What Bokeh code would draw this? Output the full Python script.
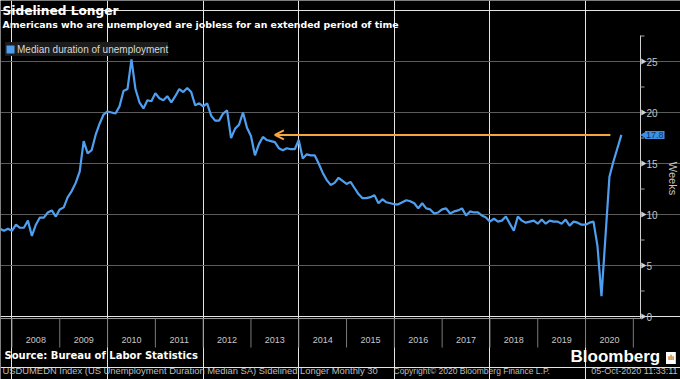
import numpy as np
from bokeh.plotting import figure
from bokeh.core.properties import value
from bokeh.models import (Label, Legend, LegendItem, Arrow, OpenHead, FixedTicker, Range1d, Grid)
from bokeh.embed import file_html
from bokeh.resources import INLINE

# ---------------- data (median duration of unemployment, weeks; monthly) ----------------
first_year, first_month = 2007, 9
weeks_2007 = [8.6, 8.4, 8.6, 8.4]                      # Sep-Dec
weeks_2008 = [9.0, 8.7, 8.7, 9.4, 7.9, 9.0, 9.7, 9.7, 10.2, 10.4, 9.8, 10.5]
weeks_2009 = [10.7, 11.7, 12.3, 13.1, 14.2, 17.2, 16.0, 16.3, 17.8, 18.9, 19.8, 20.1]
weeks_2010 = [20.0, 19.9, 20.6, 22.1, 22.3, 25.2, 22.3, 21.0, 20.4, 21.2, 21.1, 21.9]
weeks_2011 = [21.4, 21.2, 21.6, 21.0, 21.6, 22.3, 22.0, 22.4, 22.0, 20.7, 20.9, 20.6]
weeks_2012 = [20.9, 19.7, 19.2, 19.2, 19.9, 20.2, 17.5, 18.4, 18.8, 20.0, 18.5, 17.7]
weeks_2013 = [15.8, 16.9, 17.6, 17.3, 17.2, 17.1, 16.5, 16.3, 16.5, 16.4, 16.4, 17.3]
weeks_2014 = [15.5, 15.9, 15.8, 15.8, 15.0, 14.1, 13.4, 12.9, 13.1, 13.6, 13.3, 13.0]
weeks_2015 = [13.2, 12.6, 12.0, 11.6, 11.6, 11.7, 11.9, 11.1, 11.5, 11.2, 11.1, 11.0]
weeks_2016 = [11.0, 11.2, 11.4, 11.3, 11.1, 10.6, 11.1, 10.6, 10.5, 10.1, 10.2, 10.5]
weeks_2017 = [10.6, 10.1, 10.3, 10.4, 10.6, 9.9, 10.3, 10.2, 10.2, 9.9, 9.7, 9.3]
weeks_2018 = [9.6, 9.3, 9.4, 9.8, 9.1, 8.4, 9.8, 9.4, 9.2, 9.3, 9.4, 9.1]
weeks_2019 = [9.5, 9.1, 9.4, 9.3, 9.3, 9.1, 9.5, 8.9, 9.3, 9.2, 9.0, 9.0]
weeks_2020 = [9.2, 9.3, 6.9, 2.0, 7.8, 13.7, 15.2, 16.5, 17.8]   # Jan-Sep

yearly = [weeks_2007, weeks_2008, weeks_2009, weeks_2010, weeks_2011, weeks_2012,
          weeks_2013, weeks_2014, weeks_2015, weeks_2016, weeks_2017, weeks_2018,
          weeks_2019, weeks_2020]

series_name = "Median duration of unemployment"
year_labels = ["2008", "2009", "2010", "2011", "2012", "2013", "2014",
               "2015", "2016", "2017", "2018", "2019", "2020"]
y_ticks = [0, 5, 10, 15, 20, 25]
y_tick_labels = ["0", "5", "10", "15", "20", "25"]
y_minor = [2.5, 7.5, 12.5, 17.5, 22.5, 27.5]
y_axis_title = "Weeks"

# annotation arrow (from the latest level back to 2013)
arrow_head_year = 2013.5
arrow_tail_year = 2020.52

title_text = "Sidelined Longer"
subtitle_text = "Americans who are unemployed are jobless for an extended period of time"
source_text = "Source: Bureau of Labor Statistics"
footer_left = "USDUMEDN Index (US Unemployment Duration Median SA) Sidelined Longer  Monthly 30"
footer_mid = "Copyright\u00a9 2020 Bloomberg Finance L.P."
footer_right = "05-Oct-2020 11:33:11"

# ---------------- derived positions (monthly points at month end) ----------------
xs, ys = [], []
for i, vals in enumerate(yearly):
    yr = first_year + i
    m0 = first_month if i == 0 else 1
    for j, v in enumerate(vals):
        xs.append(yr + (m0 + j) / 12.0)
        ys.append(v)
last_value = ys[-1]

mid_years = [int(l) + 0.5 for l in year_labels]
year_bounds = [int(l) for l in year_labels] + [int(year_labels[-1]) + 1]

# ---------------- layout constants (pixels) ----------------
W, H = 680, 379
X0 = 2007.76          # time at the left edge of the canvas
AXIS_X = 2021.15      # time at which the value axis is drawn (pixel 640)
PPY = 640.0 / (AXIS_X - X0)   # pixels per year
ZERO_PX = 316.0       # canvas row of value 0
PPU = 10.2            # pixels per week
Y_TOP = 27.55         # top end of value axis
Y_BOT = -0.2          # time-axis line


def dx(px):
    return px / PPY


def dy(px):
    return px / PPU


BLUE = "#4f9ff0"
ORANGE = "#f7a541"
GRID = "#5c5c5c"
AXLINE = "#cfcfcf"
AXTXT = "#c8c8c8"

p = figure(width=W, height=H,
           x_range=Range1d(X0, X0 + W / PPY),
           y_range=Range1d((ZERO_PX - H) / PPU, ZERO_PX / PPU),
           x_axis_location=None, y_axis_location=None,
           output_backend="svg", toolbar_location=None,
           background_fill_color="black", border_fill_color="black",
           outline_line_color=None, min_border=0)
p.title.visible = False

# horizontal grid (library grid, bounded to the plotting area)
p.add_layout(Grid(dimension=1, ticker=FixedTicker(ticks=y_ticks[1:]), bounds=(X0, AXIS_X),
                  grid_line_color=GRID, grid_line_width=1))

# time axis: line, year separators, centred year labels
p.segment(x0=[X0], y0=[Y_BOT], x1=[AXIS_X], y1=[Y_BOT], line_color="#9a9a9a", line_width=1)
p.segment(x0=year_bounds, x1=year_bounds, y0=[Y_BOT] * len(year_bounds),
          y1=[Y_BOT - dy(29)] * len(year_bounds), line_color="#7a7a7a", line_width=1)
p.text(x=mid_years, y=[-dy(23)] * len(mid_years), text=year_labels,
       text_font=value("Liberation Sans"), text_font_size="9px", text_color=AXTXT,
       text_align="center", text_baseline="middle")

# value axis on the right
p.segment(x0=[AXIS_X], y0=[Y_BOT], x1=[AXIS_X], y1=[Y_TOP], line_color=AXLINE, line_width=1)
p.scatter(x=[AXIS_X + dx(2.5)] * len(y_ticks), y=y_ticks, marker="triangle",
          angle=-np.pi / 2, size=6, fill_color=AXLINE, line_color=None)
p.segment(x0=[AXIS_X] * len(y_minor), x1=[AXIS_X + dx(4)] * len(y_minor),
          y0=y_minor, y1=y_minor, line_color="#a0a0a0", line_width=1)
p.text(x=[AXIS_X + dx(6)] * len(y_ticks), y=y_ticks, text=y_tick_labels,
       text_font=value("Liberation Sans"), text_font_size="10px", text_color=AXTXT,
       text_align="left", text_baseline="middle")
p.add_layout(Label(x=672, y=178, x_units="canvas", y_units="canvas", text=y_axis_title,
                   angle=-np.pi / 2, text_align="center", text_baseline="middle",
                   text_font="Liberation Sans", text_font_size="11px", text_color=AXTXT))

# main line
p.line(x=xs, y=ys, line_color=BLUE, line_width=2.2)

# legend swatch (zero-size square at the first point, only used for the legend)
swatch = p.quad(left=xs[:1], right=xs[:1], top=ys[:1], bottom=ys[:1],
                fill_color=BLUE, line_color=None)
legend = Legend(items=[LegendItem(label=series_name, renderers=[swatch])],
                location=(5, H - 56), margin=0, padding=3, spacing=0,
                glyph_width=10, glyph_height=10, label_height=14, label_standoff=2,
                label_text_font="Liberation Sans", label_text_font_size="10px",
                label_text_color="#d8d8d8", background_fill_color="#1c1c1c",
                background_fill_alpha=1, border_line_color=None)
p.add_layout(legend)

# orange arrow at the latest level
p.add_layout(Arrow(end=OpenHead(size=9, line_color=ORANGE, line_width=2),
                   x_start=arrow_tail_year, y_start=last_value,
                   x_end=arrow_head_year, y_end=last_value,
                   line_color=ORANGE, line_width=2))

# latest value tag on the axis
TAG = "#3d8fe6"
p.scatter(x=[AXIS_X + dx(3)], y=[last_value], marker="triangle", angle=np.pi / 2,
          size=6, fill_color=TAG, line_color=None)
p.add_layout(Label(x=AXIS_X + dx(4.5), y=last_value, text=f"{last_value:.1f}",
                   text_baseline="middle", text_align="left",
                   text_font="Liberation Sans", text_font_size="9px", text_color="#0f2f5e",
                   background_fill_color=TAG, padding=1))


def canvas_label(x, y, text, size, color="white", font="Liberation Sans", style="normal",
                 align="left", baseline="middle"):
    p.add_layout(Label(x=x, y=y, x_units="canvas", y_units="canvas", text=text,
                       text_font=font, text_font_size=size, text_font_style=style,
                       text_color=color, text_align=align, text_baseline=baseline))


# header
canvas_label(2, 10.5, title_text, "12.2px", font="DejaVu Sans", style="bold")
canvas_label(2, 24.2, subtitle_text, "9.4px", font="DejaVu Sans", style="bold")

# footer
canvas_label(4, 355, source_text, "10px", font="DejaVu Sans", style="bold")
canvas_label(570, 355.5, "Bloomberg", "17px", style="bold")
p.add_layout(Label(x=665.5, y=351.5, x_units="canvas", y_units="canvas", text="\u0131l\u0131",
                   text_font="DejaVu Sans", text_font_size="7px", text_color="black",
                   text_baseline="top", background_fill_color="white", padding=2))
canvas_label(2, 370, footer_left, "9.4px", color="#bdbdbd")
canvas_label(393, 370, footer_mid, "8.5px", color="#bdbdbd")
canvas_label(677, 370, footer_right, "9px", color="#bdbdbd", align="right")

open("out.html", "w").write(file_html(p, INLINE))
